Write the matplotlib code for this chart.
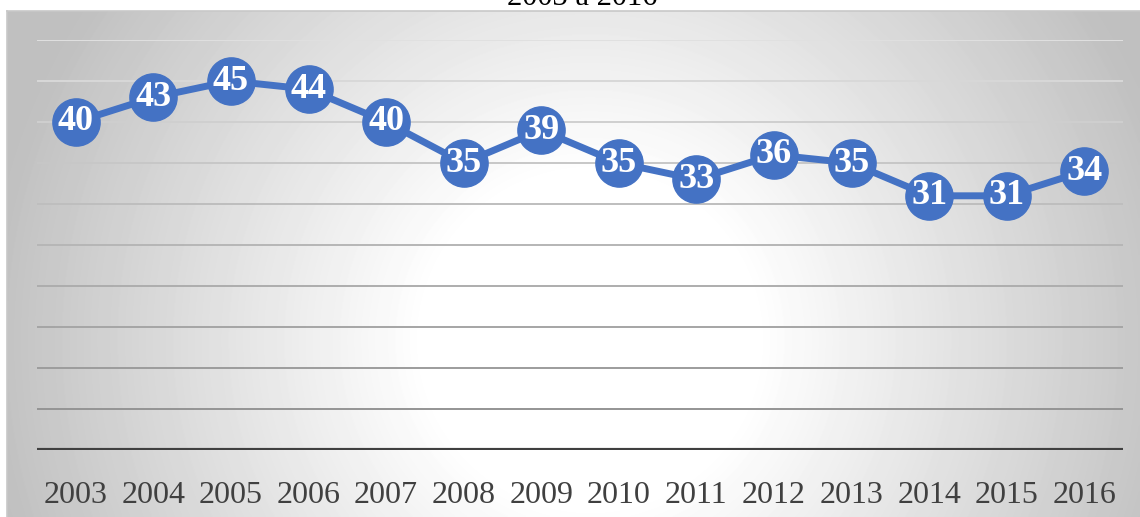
import numpy as np
import matplotlib

matplotlib.use("Agg")
import matplotlib.pyplot as plt

years = ["2003", "2004", "2005", "2006", "2007", "2008", "2009",
         "2010", "2011", "2012", "2013", "2014", "2015", "2016"]
values = [40, 43, 45, 44, 40, 35, 39, 35, 33, 36, 35, 31, 31, 34]
title = "2003 a 2016"

W, H = 1140, 517
fig = plt.figure(figsize=(W / 100, H / 100), dpi=100)
fig.patch.set_facecolor("white")

# chart area with a radial white-to-grey fill
bx0, by0 = 7, 11
bg = fig.add_axes([bx0 / W, 0, (W - bx0) / W, (H - by0) / H])
yy, xx = np.mgrid[0:H - by0, 0:W - bx0]
cx, cy = 590 - bx0, 340 - by0
d = np.hypot((xx - cx) * 0.9, (yy - cy) * 0.9)
shade = 1 - 0.25 * np.clip((d - 150) / 400, 0, 1)
bg.imshow(shade, cmap="gray", vmin=0, vmax=1, aspect="auto",
          extent=(0, 1, 0, 1), origin="upper", interpolation="bilinear")
bg.set_xticks([])
bg.set_yticks([])
for side, sp in bg.spines.items():
    sp.set_visible(side in ("top", "left"))
    sp.set_color("#c8c8c8")
    sp.set_linewidth(1.2)

# plotting area: x from 37 to 1123 px, y from 450 (0) to 40 (50)
ax = fig.add_axes([37 / W, (H - 450) / H, (1123 - 37) / W, 410 / H])
ax.set_facecolor("none")
ax.set_xlim(-0.5, len(years) - 0.5)
ax.set_ylim(0, 50)
for s in ax.spines.values():
    s.set_visible(False)

grid_levels = np.arange(5, 55, 5)
for g in grid_levels:
    t = (g - 5) / 45
    c = 0.58 + 0.30 * t
    ax.axhline(g, color=(c, c, c), lw=1.4, zorder=1)
ax.axhline(0, color="#404040", lw=3, zorder=2)

x = np.arange(len(years))
ax.plot(x, values, color="#4472C4", lw=5, zorder=3,
        marker="o", markersize=34, markerfacecolor="#4472C4",
        markeredgecolor="#4472C4", solid_capstyle="round")
for xi, v in zip(x, values):
    ax.text(xi, v, str(v), ha="center", va="center", color="white",
            fontsize=26, fontweight="bold", family="Liberation Serif", zorder=4)

ax.set_xticks(x)
ax.set_xticklabels(years, family="Liberation Serif", fontsize=23, color="#404040")
ax.tick_params(axis="x", length=0, pad=22)
ax.set_yticks([])

fig.text(582 / W, 1 - 5 / H, title, ha="center", va="baseline",
         family="Liberation Serif", fontsize=22, color="black")

fig.savefig("out.png", dpi=100)
